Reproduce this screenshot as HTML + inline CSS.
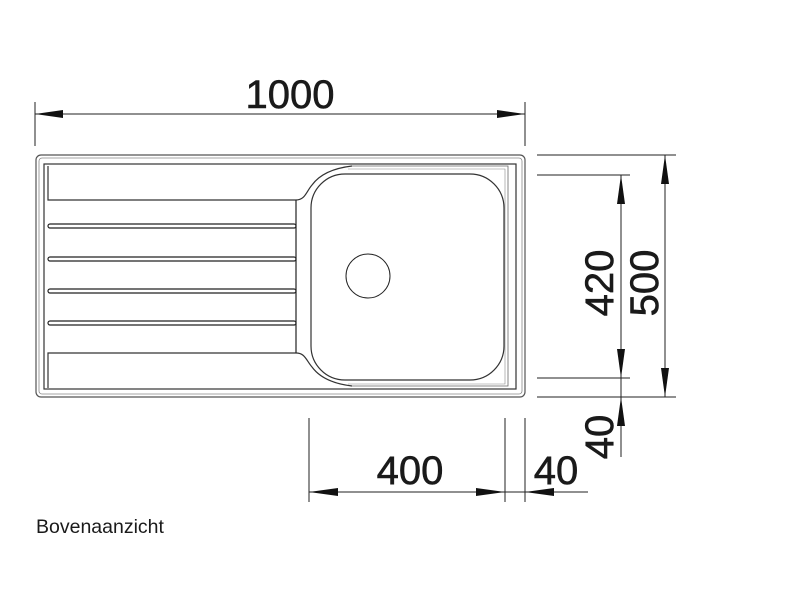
<!DOCTYPE html>
<html><head><meta charset="utf-8"><style>
html,body{margin:0;padding:0;background:#fff;width:800px;height:597px;overflow:hidden}
svg{display:block}
text{font-family:"Liberation Sans",Arial,sans-serif;fill:#1a1a1a}
</style></head><body>
<svg width="800" height="597" viewBox="0 0 800 597" xmlns="http://www.w3.org/2000/svg">
<g fill="none" stroke="#222" stroke-width="1">
<line x1="35" y1="102" x2="35" y2="146"/>
<line x1="525" y1="102" x2="525" y2="146"/>
<line x1="35" y1="114" x2="525" y2="114"/>
<rect x="36" y="155" width="489" height="242" rx="5" stroke="#555" stroke-width="1.2"/>
<rect x="39" y="158" width="483" height="236" rx="3" stroke="#888" stroke-width="0.8"/>
<rect x="44" y="164" width="472" height="225" stroke="#333" stroke-width="1.2"/>
<path d="M48 166 V200 H296 C305 200 306 192 312 185 C320 174 335 168 352 166" stroke="#333" stroke-width="1.2"/>
<path d="M48 388 V353 H296 C305 353 306 360 312 367 C320 378 335 384 352 386" stroke="#333" stroke-width="1.2"/>
<line x1="296" y1="200" x2="296" y2="353" stroke-width="1.2"/>
<g stroke-width="1.2">
<rect x="48" y="224" width="248" height="4" rx="2"/>
<rect x="48" y="257" width="248" height="4" rx="2"/>
<rect x="48" y="289" width="248" height="4" rx="2"/>
<rect x="48" y="321" width="248" height="4" rx="2"/>
</g>
<path d="M352 166 H508 V386 H352" stroke="#666" stroke-width="0.8"/>
<path d="M348 169 H505 V384 H348" stroke="#888" stroke-width="0.6"/>
<rect x="311" y="174" width="193" height="206" rx="34" stroke="#333" stroke-width="1.2"/>
<circle cx="368" cy="276" r="22" stroke-width="1"/>
<line x1="537" y1="155" x2="676" y2="155"/>
<line x1="537" y1="397" x2="676" y2="397"/>
<line x1="537" y1="175" x2="630" y2="175"/>
<line x1="537" y1="378" x2="630" y2="378"/>
<line x1="665" y1="155" x2="665" y2="397"/>
<line x1="621" y1="175" x2="621" y2="457"/>
<line x1="309" y1="418" x2="309" y2="502"/>
<line x1="505" y1="418" x2="505" y2="502"/>
<line x1="525" y1="418" x2="525" y2="502"/>
<line x1="309" y1="492" x2="505" y2="492"/>
<line x1="505" y1="492" x2="588" y2="492"/>
</g>
<g fill="#111">
<polygon points="35,114 63,110 63,118"/>
<polygon points="525,114 497,110 497,118"/>
<polygon points="665,155 661,184 669,184"/>
<polygon points="665,397 661,368 669,368"/>
<polygon points="621,175 617,204 625,204"/>
<polygon points="621,378 617,349 625,349"/>
<polygon points="621,397 617,426 625,426"/>
<polygon points="309,492 338,488 338,496"/>
<polygon points="505,492 476,488 476,496"/>
<polygon points="525,492 554,488 554,496"/>
</g>
<g stroke="#1a1a1a" stroke-width="0.6">
<text x="290" y="108" font-size="40" text-anchor="middle">1000</text>
<text x="410" y="484" font-size="40" text-anchor="middle">400</text>
<text x="556" y="484" font-size="40" text-anchor="middle">40</text>
<text transform="translate(613,283) rotate(-90)" font-size="40" text-anchor="middle">420</text>
<text transform="translate(658,283) rotate(-90)" font-size="40" text-anchor="middle">500</text>
<text transform="translate(613,437) rotate(-90)" font-size="40" text-anchor="middle">40</text>
</g>
<text x="36" y="533" font-size="19.5">Bovenaanzicht</text>
</svg>
</body></html>
